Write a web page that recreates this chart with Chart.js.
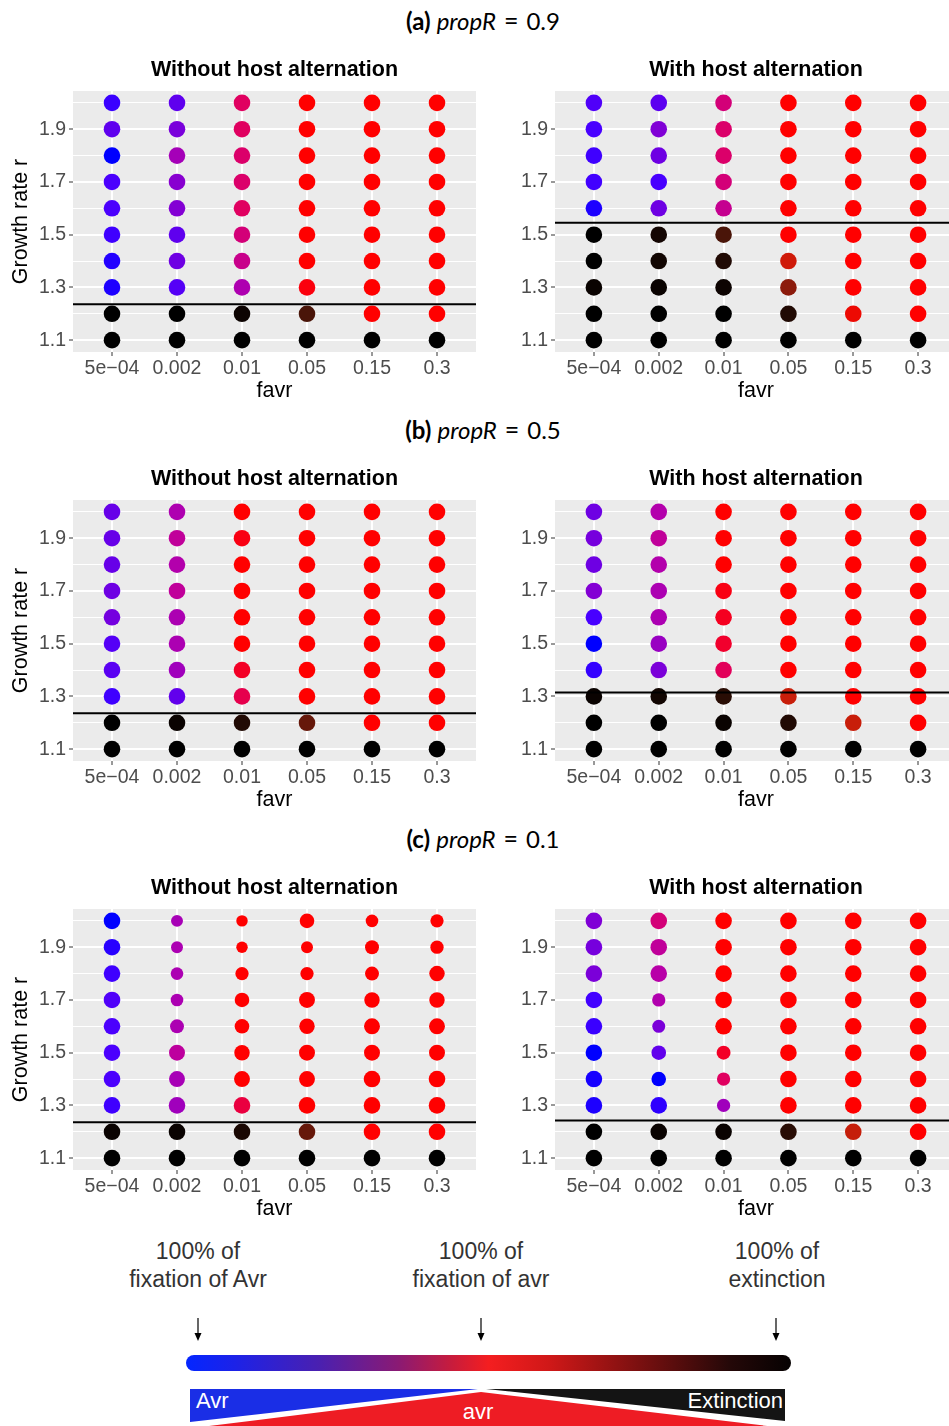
<!DOCTYPE html>
<html>
<head>
<meta charset="utf-8">
<script src="https://cdn.jsdelivr.net/npm/chart.js@4.4.0/dist/chart.umd.min.js"></script>
<style>
  html, body { margin: 0; padding: 0; background: #fff; }
  body { position: relative; width: 949px; height: 1426px; overflow: hidden; }
  .sect { position: absolute; left: 0; width: 966px; text-align: center; font-family: Lato, "Open Sans", sans-serif; font-size: 24px; line-height: 28px; color: #000; }
  .sect .eq { margin: 0 8px; font-size: 25px; }
  #key { position: absolute; left: 0; top: 1230px; }
  #key text { font-family: "Liberation Sans", Arial, sans-serif; }
</style>
</head>
<body>
<svg id="key" width="949" height="196">
  <defs>
    <linearGradient id="ramp" x1="0" x2="1" y1="0" y2="0">
      <stop offset="0" stop-color="#0426ff"/>
      <stop offset="0.08" stop-color="#1c22e8"/>
      <stop offset="0.22" stop-color="#4a20b0"/>
      <stop offset="0.35" stop-color="#8a1a74"/>
      <stop offset="0.44" stop-color="#c81c3c"/>
      <stop offset="0.5" stop-color="#f41e20"/>
      <stop offset="0.6" stop-color="#d01818"/>
      <stop offset="0.75" stop-color="#7a1010"/>
      <stop offset="0.9" stop-color="#240808"/>
      <stop offset="1" stop-color="#060202"/>
    </linearGradient>
  </defs>
  <g fill="#333" font-size="23" text-anchor="middle" dominant-baseline="central">
    <text x="198" y="21">100% of</text>
    <text x="198" y="49">fixation of Avr</text>
    <text x="481" y="21">100% of</text>
    <text x="481" y="49">fixation of avr</text>
    <text x="777" y="21">100% of</text>
    <text x="777" y="49">extinction</text>
  </g>
  <g stroke="#000" stroke-width="1.2">
    <line x1="198" y1="88" x2="198" y2="104"/>
    <line x1="481" y1="88" x2="481" y2="104"/>
    <line x1="776" y1="88" x2="776" y2="104"/>
  </g>
  <g fill="#000">
    <polygon points="194.5,103 201.5,103 198,111"/>
    <polygon points="477.5,103 484.5,103 481,111"/>
    <polygon points="772.5,103 779.5,103 776,111"/>
  </g>
  <rect x="186" y="125" width="605" height="16" rx="8" fill="url(#ramp)"/>
  <polygon points="190,159 478,159 190,192" fill="#1a2ee6"/>
  <polygon points="193,198 481,162 784,198" fill="#ee1c24"/>
  <polygon points="486,159 785,159 785,191" fill="#141414"/>
  <g fill="#fff" font-size="22" dominant-baseline="central">
    <text x="196" y="170">Avr</text>
    <text x="478" y="181" text-anchor="middle">avr</text>
    <text x="783" y="170" text-anchor="end">Extinction</text>
  </g>
</svg>
<script>
// categories and axes
const favr = ['5e\u221204', '0.002', '0.01', '0.05', '0.15', '0.3'];
const growthRate = [2.0, 1.9, 1.8, 1.7, 1.6, 1.5, 1.4, 1.3, 1.2, 1.1];
const yTickLabels = [1.1, 1.3, 1.5, 1.7, 1.9];
const propR = ['0.9', '0.5', '0.1'];

// outcome position on the Avr(0) -> avr(1) -> extinction(2) scale, rows follow growthRate
const aWithout = [
  [0.2, 0.34, 0.85, 1, 1, 1],
  [0.34, 0.44, 0.85, 1, 1, 1],
  [0, 0.62, 0.83, 1, 1, 1],
  [0.26, 0.5, 0.83, 1, 1, 1],
  [0.26, 0.48, 0.85, 1, 1, 1],
  [0.22, 0.34, 0.8, 1, 1, 1],
  [0.12, 0.4, 0.76, 1, 1, 1],
  [0.1, 0.3, 0.66, 0.98, 1, 1],
  [2, 2, 1.95, 1.71, 1, 1],
  [2, 2, 2, 2, 2, 2]
];
const aWith = [
  [0.28, 0.33, 0.8, 1, 1, 1],
  [0.25, 0.47, 0.83, 1, 1, 1],
  [0.22, 0.4, 0.83, 1, 1, 1],
  [0.23, 0.25, 0.8, 1, 1, 1],
  [0.1, 0.4, 0.75, 1, 1, 1],
  [2, 1.92, 1.71, 1, 1, 1],
  [2, 1.93, 1.87, 1.22, 1, 1],
  [1.96, 1.96, 1.95, 1.46, 1, 1],
  [2, 2, 2, 1.87, 1.08, 1],
  [2, 2, 2, 2, 2, 2]
];
const bWithout = [
  [0.37, 0.66, 1, 1, 1, 1],
  [0.37, 0.73, 0.97, 1, 1, 1],
  [0.37, 0.68, 1, 1, 1, 1],
  [0.4, 0.73, 1, 1, 1, 1],
  [0.42, 0.65, 1, 1, 1, 1],
  [0.3, 0.65, 1, 1, 1, 1],
  [0.32, 0.6, 0.94, 1, 1, 1],
  [0.22, 0.35, 0.88, 1, 1, 1],
  [2, 1.96, 1.87, 1.6, 1, 1],
  [2, 2, 2, 2, 2, 2]
];
const bWith = [
  [0.4, 0.68, 1, 1, 1, 1],
  [0.43, 0.73, 1, 1, 1, 1],
  [0.4, 0.68, 1, 1, 1, 1],
  [0.48, 0.65, 0.97, 1, 1, 1],
  [0.25, 0.65, 0.95, 1, 1, 1],
  [0, 0.57, 0.93, 1, 1, 1],
  [0.18, 0.45, 0.86, 1, 1, 1],
  [1.96, 1.93, 1.84, 1.25, 1, 1],
  [2, 2, 1.96, 1.87, 1.25, 1],
  [2, 2, 2, 2, 2, 2]
];
const cWithout = [
  [0, 0.63, 1, 1, 1, 1],
  [0.14, 0.65, 1, 1, 1, 1],
  [0.22, 0.65, 1, 1, 1, 1],
  [0.28, 0.65, 1, 1, 1, 1],
  [0.26, 0.65, 1, 1, 1, 1],
  [0.26, 0.72, 1, 1, 1, 1],
  [0.26, 0.63, 1, 1, 1, 1],
  [0.22, 0.6, 0.9, 1, 1, 1],
  [1.96, 1.96, 1.9, 1.6, 1, 1],
  [2, 2, 2, 2, 2, 2]
];
const cWith = [
  [0.47, 0.8, 1, 1, 1, 1],
  [0.43, 0.73, 1, 1, 1, 1],
  [0.45, 0.7, 1, 1, 1, 1],
  [0.23, 0.67, 1, 1, 1, 1],
  [0.2, 0.45, 1, 1, 1, 1],
  [0, 0.35, 0.94, 1, 1, 1],
  [0.08, 0, 0.85, 1, 1, 1],
  [0.1, 0.16, 0.6, 1, 1, 1],
  [2, 1.96, 1.96, 1.84, 1.26, 1],
  [2, 2, 2, 2, 2, 2]
];

// relative point size (only panel c varies)
const cWithoutSize = [
  [1, 0.72, 0.69, 0.88, 0.76, 0.8],
  [1, 0.72, 0.69, 0.72, 0.84, 0.8],
  [1, 0.76, 0.8, 0.8, 0.84, 0.93],
  [1, 0.76, 0.88, 0.96, 0.93, 0.93],
  [1, 0.84, 0.88, 0.93, 0.96, 0.96],
  [1, 0.96, 0.93, 0.96, 0.96, 0.96],
  [1, 0.96, 0.96, 0.96, 1, 1],
  [1, 1, 1, 1, 1, 1],
  [1, 1, 1, 1, 1, 1],
  [1, 1, 1, 1, 1, 1]
];
const cWithSize = [
  [1, 1, 1, 1, 1, 1],
  [1, 1, 1, 1, 1, 1],
  [1, 1, 1, 1, 1, 1],
  [1, 0.8, 1, 1, 1, 1],
  [1, 0.78, 1, 1, 1, 1],
  [1, 0.88, 0.84, 1, 1, 1],
  [1, 0.88, 0.8, 1, 1, 1],
  [1, 1, 0.8, 1, 1, 1],
  [1, 1, 1, 1, 1, 1],
  [1, 1, 1, 1, 1, 1]
];

// black threshold line per panel [without, with]
const thresholdA = [1.236, 1.545];
const thresholdB = [1.236, 1.315];
const thresholdC = [1.236, 1.243];

const rampStops = [
  [0, [0, 0, 255]], [0.25, [72, 0, 255]], [0.5, [136, 0, 208]], [0.7, [184, 0, 168]],
  [0.85, [224, 0, 96]], [1, [255, 0, 0]], [1.25, [200, 30, 10]], [1.5, [128, 26, 12]],
  [1.75, [64, 20, 8]], [2, [0, 0, 0]]
];

let rampColor = (t) => {
  for (let i = 1; i < rampStops.length; i++) {
    const [t1, c1] = rampStops[i];
    const [t0, c0] = rampStops[i - 1];
    if (t <= t1) {
      const f = (t - t0) / (t1 - t0);
      const c = c0.map((v, k) => Math.round(v + (c1[k] - v) * f));
      return `rgb(${c[0]},${c[1]},${c[2]})`;
    }
  }
  return '#000';
};

const sans = "'Liberation Sans', Arial, sans-serif";
const isMajor = (v) => yTickLabels.some(m => Math.abs(m - v) < 1e-6);

let makePanel = (left, top, width, grid, sizes, threshold, title, yTitle) => {
  const canvas = document.createElement('canvas');
  canvas.width = width;
  canvas.height = 354;
  canvas.style.cssText = `position:absolute;left:${left}px;top:${top}px;width:${width}px;height:354px`;
  document.body.appendChild(canvas);

  const points = [], colors = [], radii = [];
  growthRate.forEach((r, i) => {
    favr.forEach((f, j) => {
      points.push({ x: j, y: r });
      colors.push(rampColor(grid[i][j]));
      radii.push(8.3 * (sizes ? sizes[i][j] : 1));
    });
  });

  const panelBg = {
    id: 'panelBg',
    beforeDraw(chart) {
      const { ctx, chartArea: a } = chart;
      ctx.save();
      ctx.fillStyle = '#EBEBEB';
      ctx.fillRect(a.left, a.top, a.right - a.left, a.bottom - a.top);
      ctx.restore();
    },
    afterDraw(chart) {
      const { ctx, chartArea: a } = chart;
      ctx.save();
      ctx.font = `bold 21.5px ${sans}`;
      ctx.fillStyle = '#000';
      ctx.textAlign = 'center';
      ctx.textBaseline = 'middle';
      ctx.fillText(title, (a.left + a.right) / 2, 20);
      ctx.restore();
    }
  };

  new Chart(canvas, {
    type: 'scatter',
    data: {
      datasets: [
        {
          type: 'line',
          data: [{ x: -0.6, y: threshold }, { x: 5.6, y: threshold }],
          borderColor: '#000',
          borderWidth: 2,
          pointRadius: 0
        },
        {
          data: points,
          pointBackgroundColor: colors,
          pointBorderWidth: 0,
          pointBorderColor: 'rgba(0,0,0,0)',
          pointRadius: radii
        }
      ]
    },
    options: {
      responsive: false,
      animation: false,
      events: [],
      layout: { autoPadding: false, padding: { top: 41, right: 4, bottom: 0, left: 0 } },
      plugins: { legend: { display: false }, tooltip: { enabled: false } },
      scales: {
        x: {
          type: 'linear',
          min: -0.6,
          max: 5.6,
          afterBuildTicks: (s) => { s.ticks = favr.map((f, i) => ({ value: i })); },
          afterFit: (s) => { s.height = 52; },
          ticks: {
            callback: (v) => favr[v],
            font: { family: sans, size: 19.5 },
            color: '#4D4D4D',
            padding: 1,
            autoSkip: false,
            maxRotation: 0
          },
          grid: { color: '#fff', lineWidth: 2, tickLength: 4, tickColor: '#333', tickWidth: 1 },
          border: { display: false },
          title: { display: true, text: 'favr', color: '#000', font: { family: sans, size: 21.5 }, padding: 0 }
        },
        y: {
          type: 'linear',
          min: 1.055,
          max: 2.045,
          afterBuildTicks: (s) => { s.ticks = growthRate.map(v => ({ value: v })); },
          afterFit: (s) => { s.width = 73; },
          ticks: {
            callback: (v) => isMajor(v) ? v.toFixed(1) : '',
            font: { family: sans, size: 19.5 },
            color: '#4D4D4D',
            padding: 3
          },
          grid: {
            color: '#fff',
            lineWidth: (c) => isMajor(c.tick.value) ? 2 : 1,
            tickLength: 4,
            tickWidth: 1,
            tickColor: (c) => isMajor(c.tick.value) ? '#333' : 'rgba(0,0,0,0)'
          },
          border: { display: false },
          title: { display: yTitle, text: 'Growth rate r', color: '#000', font: { family: sans, size: 21.5 }, padding: { top: 8, bottom: 0 } }
        }
      }
    },
    plugins: [panelBg]
  });
};

const sections = [
  [aWithout, aWith, null, null, thresholdA],
  [bWithout, bWith, null, null, thresholdB],
  [cWithout, cWith, cWithoutSize, cWithSize, thresholdC]
];

sections.forEach((s, k) => {
  const top = 50 + k * 409;
  const head = document.createElement('div');
  head.className = 'sect';
  head.style.top = (top - 44) + 'px';
  head.innerHTML = `<b>(${'abc'[k]})</b> <i>propR</i><span class="eq">=</span>${propR[k]}`;
  document.body.appendChild(head);
  makePanel(0, top, 480, s[0], s[2], s[4][0], 'Without host alternation', true);
  makePanel(482, top, 479, s[1], s[3], s[4][1], 'With host alternation', false);
});
</script>
</body>
</html>
